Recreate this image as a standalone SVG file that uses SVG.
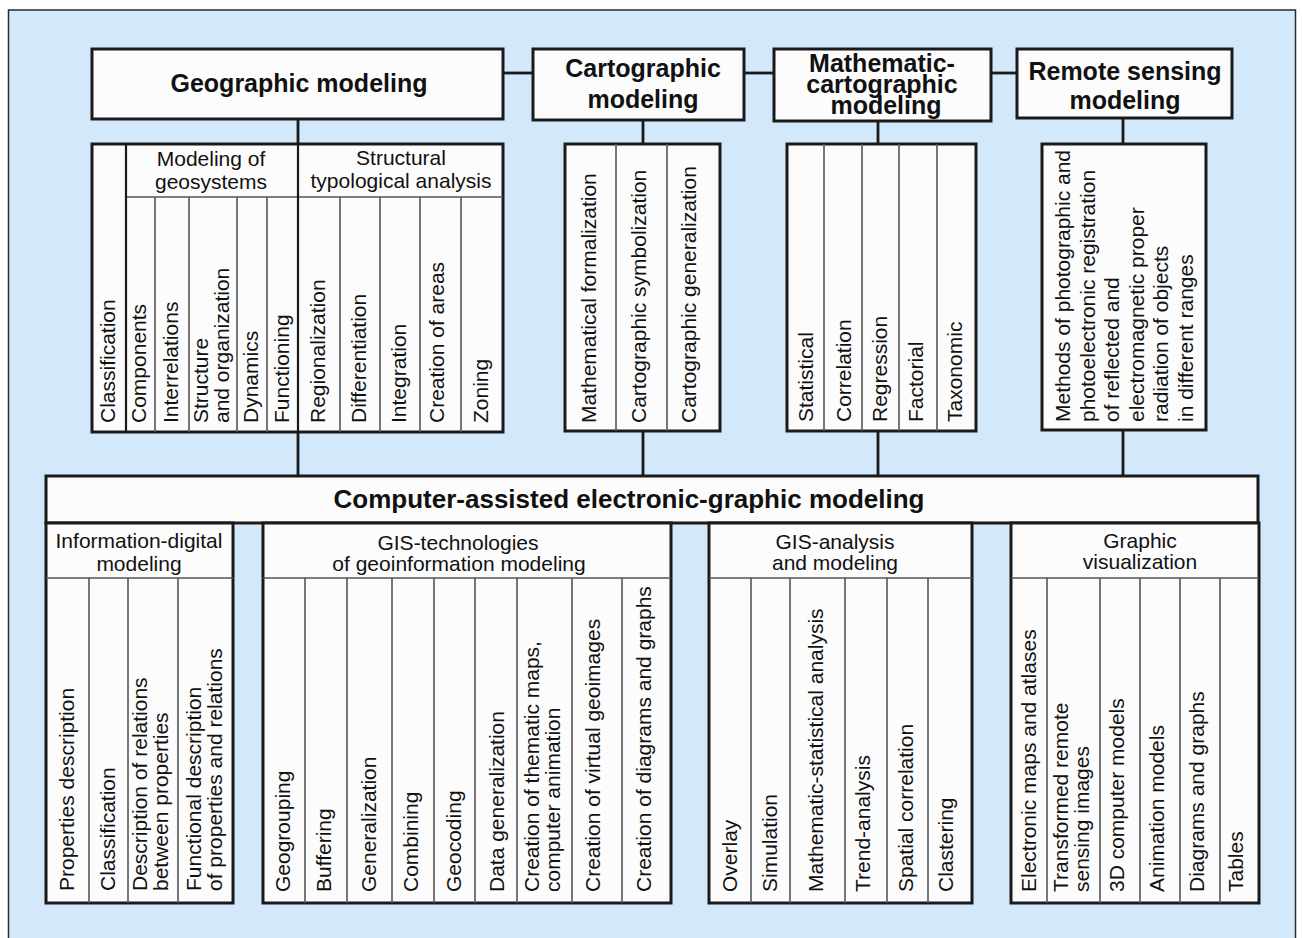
<svg xmlns="http://www.w3.org/2000/svg" width="1302" height="938" viewBox="0 0 1302 938">
<style>
.frame{fill:#d3e8fb;stroke:#2a2a2a;stroke-width:1.5}
.box{fill:#fcfcfc;stroke:#1a1a1a;stroke-width:3}
.dv{stroke:#555;stroke-width:1.6;fill:none}
.dk{stroke:#1a1a1a;stroke-width:2.2;fill:none}
.conn{stroke:#1a1a1a;stroke-width:2.8;fill:none}
text{font-family:"Liberation Sans",Arial,sans-serif;fill:#111}
.t{font-size:21px}
.h{font-size:21px;text-anchor:middle}
.b{font-size:25px;font-weight:bold;text-anchor:middle}
.bb{font-size:26px;font-weight:bold;text-anchor:middle}
</style>
<rect class="frame" x="8.5" y="10" width="1287" height="940"/>

<g id="connectors">
<line class="conn" x1="503" y1="73" x2="533" y2="73"/>
<line class="conn" x1="744" y1="73" x2="774" y2="73"/>
<line class="conn" x1="991" y1="73" x2="1017" y2="73"/>
<line class="conn" x1="298" y1="119" x2="298" y2="144"/>
<line class="conn" x1="298" y1="432" x2="298" y2="476"/>
<line class="conn" x1="643" y1="120" x2="643" y2="144"/>
<line class="conn" x1="643" y1="431" x2="643" y2="476"/>
<line class="conn" x1="878" y1="121" x2="878" y2="144"/>
<line class="conn" x1="878" y1="431" x2="878" y2="476"/>
<line class="conn" x1="1123" y1="118" x2="1123" y2="144"/>
<line class="conn" x1="1123" y1="430" x2="1123" y2="476"/>
</g>

<g id="geographic-modeling">
<rect class="box" x="92" y="49" width="411" height="70"/>
<text class="b" x="299" y="92">Geographic modeling</text>
</g>
<g id="cartographic-modeling">
<rect class="box" x="533" y="49" width="211" height="71"/>
<text class="b" x="643" y="77">Cartographic</text>
<text class="b" x="643" y="108">modeling</text>
</g>
<g id="mathematic-cartographic-modeling">
<rect class="box" x="774" y="49" width="217" height="72"/>
<text class="b" x="882" y="72">Mathematic-</text>
<text class="b" x="882" y="93">cartographic</text>
<text class="b" x="886" y="114">modeling</text>
</g>
<g id="remote-sensing-modeling">
<rect class="box" x="1017" y="49" width="215" height="69"/>
<text class="b" x="1125" y="80">Remote sensing</text>
<text class="b" x="1125" y="109">modeling</text>
</g>

<g id="geographic-methods">
<rect class="box" x="92" y="144" width="411" height="288"/>
<line class="dv" x1="126" y1="197" x2="503" y2="197"/>
<line class="dk" x1="126" y1="144" x2="126" y2="432"/>
<line class="dk" x1="298" y1="144" x2="298" y2="432"/>
<line class="dv" x1="155" y1="197" x2="155" y2="432"/>
<line class="dv" x1="189" y1="197" x2="189" y2="432"/>
<line class="dv" x1="237" y1="197" x2="237" y2="432"/>
<line class="dv" x1="267" y1="197" x2="267" y2="432"/>
<line class="dv" x1="340" y1="197" x2="340" y2="432"/>
<line class="dv" x1="380" y1="197" x2="380" y2="432"/>
<line class="dv" x1="420" y1="197" x2="420" y2="432"/>
<line class="dv" x1="461" y1="197" x2="461" y2="432"/>
<text class="h" x="211" y="166">Modeling of</text>
<text class="h" x="211" y="189">geosystems</text>
<text class="h" x="401" y="165">Structural</text>
<text class="h" x="401" y="188">typological analysis</text>
<text class="t" transform="translate(115,423) rotate(-90)">Classification</text>
<text class="t" transform="translate(146,423) rotate(-90)">Components</text>
<text class="t" transform="translate(178,423) rotate(-90)">Interrelations</text>
<text class="t" transform="translate(208,423) rotate(-90)">Structure<tspan x="0" dy="21">and organization</tspan></text>
<text class="t" transform="translate(258,423) rotate(-90)">Dynamics</text>
<text class="t" transform="translate(289,423) rotate(-90)">Functioning</text>
<text class="t" transform="translate(325,423) rotate(-90)">Regionalization</text>
<text class="t" transform="translate(366,423) rotate(-90)">Differentiation</text>
<text class="t" transform="translate(406,423) rotate(-90)">Integration</text>
<text class="t" transform="translate(444,423) rotate(-90)">Creation of areas</text>
<text class="t" transform="translate(488,423) rotate(-90)">Zoning</text>
</g>

<g id="cartographic-methods">
<rect class="box" x="565" y="144" width="155" height="287"/>
<line class="dv" x1="616" y1="144" x2="616" y2="431"/>
<line class="dv" x1="667" y1="144" x2="667" y2="431"/>
<text class="t" transform="translate(596,423) rotate(-90)">Mathematical formalization</text>
<text class="t" transform="translate(646,423) rotate(-90)">Cartographic symbolization</text>
<text class="t" transform="translate(696,423) rotate(-90)">Cartographic generalization</text>
</g>

<g id="mathematic-methods">
<rect class="box" x="787" y="144" width="189" height="287"/>
<line class="dv" x1="824" y1="144" x2="824" y2="431"/>
<line class="dv" x1="862" y1="144" x2="862" y2="431"/>
<line class="dv" x1="899" y1="144" x2="899" y2="431"/>
<line class="dv" x1="937" y1="144" x2="937" y2="431"/>
<text class="t" transform="translate(813,422) rotate(-90)">Statistical</text>
<text class="t" transform="translate(851,422) rotate(-90)">Correlation</text>
<text class="t" transform="translate(887,422) rotate(-90)">Regression</text>
<text class="t" transform="translate(923,422) rotate(-90)">Factorial</text>
<text class="t" transform="translate(962,422) rotate(-90)">Taxonomic</text>
</g>

<g id="remote-methods">
<rect class="box" x="1042" y="144" width="164" height="286"/>
<text class="t" transform="translate(1070,422) rotate(-90)">Methods of photographic and<tspan x="0" dy="24.5">photoelectronic registration</tspan><tspan x="0" dy="24.5">of reflected and</tspan><tspan x="0" dy="24.5">electromagnetic proper</tspan><tspan x="0" dy="24.5">radiation of objects</tspan><tspan x="0" dy="24.5">in different ranges</tspan></text>
</g>

<g id="computer-assisted-modeling">
<rect class="box" x="46" y="476" width="1212" height="47"/>
<text class="bb" x="629" y="508">Computer-assisted electronic-graphic modeling</text>
</g>

<g id="information-digital-modeling">
<rect class="box" x="46" y="523" width="187" height="380"/>
<line class="dv" x1="46" y1="578" x2="233" y2="578"/>
<line class="dv" x1="89" y1="578" x2="89" y2="903"/>
<line class="dv" x1="128" y1="578" x2="128" y2="903"/>
<line class="dv" x1="178" y1="578" x2="178" y2="903"/>
<text class="h" x="139" y="548">Information-digital</text>
<text class="h" x="139" y="571">modeling</text>
<text class="t" transform="translate(74,891) rotate(-90)">Properties description</text>
<text class="t" transform="translate(115,891) rotate(-90)">Classification</text>
<text class="t" transform="translate(147,891) rotate(-90)">Description of relations<tspan x="0" dy="21">between properties</tspan></text>
<text class="t" transform="translate(201,891) rotate(-90)">Functional description<tspan x="0" dy="21">of properties and relations</tspan></text>
</g>

<g id="gis-technologies">
<rect class="box" x="263" y="523" width="408" height="380"/>
<line class="dv" x1="263" y1="578" x2="671" y2="578"/>
<line class="dv" x1="305" y1="578" x2="305" y2="903"/>
<line class="dv" x1="347" y1="578" x2="347" y2="903"/>
<line class="dv" x1="392" y1="578" x2="392" y2="903"/>
<line class="dv" x1="434" y1="578" x2="434" y2="903"/>
<line class="dv" x1="475" y1="578" x2="475" y2="903"/>
<line class="dv" x1="517" y1="578" x2="517" y2="903"/>
<line class="dv" x1="572" y1="578" x2="572" y2="903"/>
<line class="dv" x1="622" y1="578" x2="622" y2="903"/>
<text class="h" x="458" y="550">GIS-technologies</text>
<text class="h" x="459" y="571">of geoinformation modeling</text>
<text class="t" transform="translate(290,892) rotate(-90)">Geogrouping</text>
<text class="t" transform="translate(331,892) rotate(-90)">Buffering</text>
<text class="t" transform="translate(376,892) rotate(-90)">Generalization</text>
<text class="t" transform="translate(418,892) rotate(-90)">Combining</text>
<text class="t" transform="translate(461,892) rotate(-90)">Geocoding</text>
<text class="t" transform="translate(504,892) rotate(-90)">Data generalization</text>
<text class="t" transform="translate(539,892) rotate(-90)">Creation of thematic maps,<tspan x="0" dy="20.5">computer animation</tspan></text>
<text class="t" transform="translate(600,892) rotate(-90)">Creation of virtual geoimages</text>
<text class="t" transform="translate(651,892) rotate(-90)">Creation of diagrams and graphs</text>
</g>

<g id="gis-analysis">
<rect class="box" x="709" y="523" width="263" height="380"/>
<line class="dv" x1="709" y1="578" x2="972" y2="578"/>
<line class="dv" x1="751" y1="578" x2="751" y2="903"/>
<line class="dv" x1="790" y1="578" x2="790" y2="903"/>
<line class="dv" x1="845" y1="578" x2="845" y2="903"/>
<line class="dv" x1="887" y1="578" x2="887" y2="903"/>
<line class="dv" x1="928" y1="578" x2="928" y2="903"/>
<text class="h" x="835" y="549">GIS-analysis</text>
<text class="h" x="835" y="570">and modeling</text>
<text class="t" transform="translate(737,892) rotate(-90)">Overlay</text>
<text class="t" transform="translate(777,892) rotate(-90)">Simulation</text>
<text class="t" transform="translate(823,892) rotate(-90)">Mathematic-statistical analysis</text>
<text class="t" transform="translate(870,892) rotate(-90)">Trend-analysis</text>
<text class="t" transform="translate(913,892) rotate(-90)">Spatial correlation</text>
<text class="t" transform="translate(953,892) rotate(-90)">Clastering</text>
</g>

<g id="graphic-visualization">
<rect class="box" x="1011" y="523" width="248" height="380"/>
<line class="dv" x1="1011" y1="578" x2="1259" y2="578"/>
<line class="dv" x1="1047" y1="578" x2="1047" y2="903"/>
<line class="dv" x1="1100" y1="578" x2="1100" y2="903"/>
<line class="dv" x1="1140" y1="578" x2="1140" y2="903"/>
<line class="dv" x1="1180" y1="578" x2="1180" y2="903"/>
<line class="dv" x1="1220" y1="578" x2="1220" y2="903"/>
<text class="h" x="1140" y="548">Graphic</text>
<text class="h" x="1140" y="569">visualization</text>
<text class="t" transform="translate(1036,892) rotate(-90)">Electronic maps and atlases</text>
<text class="t" transform="translate(1068,892) rotate(-90)">Transformed remote<tspan x="0" dy="21">sensing images</tspan></text>
<text class="t" transform="translate(1124,892) rotate(-90)">3D computer models</text>
<text class="t" transform="translate(1164,892) rotate(-90)">Animation models</text>
<text class="t" transform="translate(1204,892) rotate(-90)">Diagrams and graphs</text>
<text class="t" transform="translate(1243,892) rotate(-90)">Tables</text>
</g>
</svg>
